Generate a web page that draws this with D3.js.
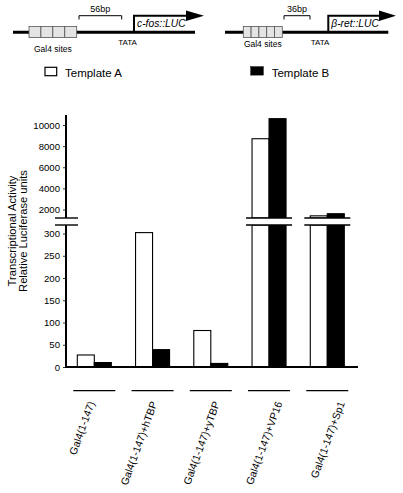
<!DOCTYPE html>
<html>
<head>
<meta charset="utf-8">
<script src="https://cdn.jsdelivr.net/npm/d3@7/dist/d3.min.js"></script>
<style>
  html, body { margin: 0; padding: 0; background: #fff; }
  svg { display: block; font-family: "Liberation Sans", Arial, Helvetica, sans-serif; }
</style>
</head>
<body>
<svg id="chart" width="403" height="493"></svg>
<script>
// ---- data ----
const categories = ["Gal4(1-147)", "Gal4(1-147)+hTBP", "Gal4(1-147)+yTBP", "Gal4(1-147)+VP16", "Gal4(1-147)+Sp1"];
const series = ["Template A", "Template B"];
const templateA = [27, 302, 82, 8700, 1400];
const templateB = [10, 39, 8, 10600, 1600];
const upperTicks = [2000, 4000, 6000, 8000, 10000];
const lowerTicks = [0, 50, 100, 150, 200, 250, 300];

const svg = d3.select("#chart");
const ink = "#000";

// ---- top schematic ----
function construct(g, o) {
  g.append("line").attr("x1", o.x0).attr("x2", o.x1).attr("y1", 32.3).attr("y2", 32.3)
    .attr("stroke", ink).attr("stroke-width", 3);
  const bw = (o.bx1 - o.bx0) / o.nb;
  for (let i = 0; i < o.nb; i++) {
    g.append("rect").attr("x", o.bx0 + i * bw).attr("y", 26.5).attr("width", bw).attr("height", 11)
      .attr("fill", "#e4e4e4").attr("stroke", "#555").attr("stroke-width", 0.8);
  }
  g.append("text").attr("x", (o.bx0 + o.bx1) / 2).attr("y", o.gy).attr("text-anchor", "middle")
    .attr("font-size", 8.5).text("Gal4 sites");
  g.append("path").attr("d", `M${o.bk0},19.5V15.7H${o.bk1}V19.5`).attr("fill", "none")
    .attr("stroke", ink).attr("stroke-width", 1);
  g.append("text").attr("x", (o.bk0 + o.bk1) / 2).attr("y", 12).attr("text-anchor", "middle")
    .attr("font-size", 9).text(o.bp);
  g.append("text").attr("x", o.tx).attr("y", 45).attr("text-anchor", "middle")
    .attr("font-size", 8).text("TATA");
  g.append("path").attr("d", `M${o.ax},32.3V15.7H${o.ah}`).attr("fill", "none")
    .attr("stroke", ink).attr("stroke-width", 2);
  g.append("path").attr("d", `M${o.ah - 1},10.5L${o.at},15.7L${o.ah - 1},21Z`).attr("fill", ink);
  g.append("text").attr("x", o.ax + 3).attr("y", 27.3).attr("font-size", 10.3)
    .attr("font-style", "italic").text(o.label);
}
const schematic = svg.append("g");
construct(schematic, { x0: 13, x1: 195, bx0: 29, bx1: 76.7, nb: 4, gy: 52.3, bk0: 79, bk1: 121.7, bp: "56bp",
  tx: 127.5, ax: 134, ah: 187, at: 204, label: "c-fos::LUC" });
construct(schematic, { x0: 225, x1: 388.3, bx0: 243.3, bx1: 282.3, nb: 5, gy: 47, bk0: 284, bk1: 310, bp: "36bp",
  tx: 320, ax: 328.3, ah: 380, at: 396, label: "β-ret::LUC" });

// ---- legend ----
const legend = svg.append("g");
const legX = [45, 250.7];
series.forEach((s, i) => {
  legend.append("rect").attr("x", legX[i]).attr("y", i === 0 ? 67.3 : 66.7)
    .attr("width", i === 0 ? 11.7 : 12.6).attr("height", 8.4)
    .attr("fill", i === 0 ? "#fff" : ink).attr("stroke", ink).attr("stroke-width", i === 0 ? 1.2 : 0.5);
  legend.append("text").attr("x", legX[i] + (i === 0 ? 20 : 21)).attr("y", 76.5)
    .attr("font-size", 11.5).text(s);
});

// ---- scales ----
const axisX = 66;
const baseY = 367;
const breakTop = 218, breakBot = 225, upperTop = 115;
const x = d3.scaleBand().domain(categories).range([77.3, 344.3]).paddingInner(0.416).paddingOuter(0);
const xs = d3.scaleBand().domain(series).range([0, x.bandwidth()]);
const yU = d3.scaleLinear().domain([2000, 10000]).range([209.5, 125]);
const yL = d3.scaleLinear().domain([0, 300]).range([baseY, 233.5]);
const lowerMax = yL.invert(breakBot);
const xLab = d3.scalePoint().domain(categories).range([95, 345]);

// ---- bars ----
const bars = svg.append("g");
const rows = categories.map((c, i) => ({ c, vals: [templateA[i], templateB[i]] }));
rows.forEach(r => {
  r.vals.forEach((v, j) => {
    const bx = x(r.c) + xs(series[j]);
    const fill = j === 0 ? "#fff" : ink;
    if (v <= lowerMax) {
      bars.append("rect").attr("x", bx).attr("y", yL(v)).attr("width", xs.bandwidth())
        .attr("height", yL(0) - yL(v)).attr("fill", fill).attr("stroke", ink).attr("stroke-width", 1.1);
    } else {
      bars.append("rect").attr("x", bx).attr("y", breakBot).attr("width", xs.bandwidth())
        .attr("height", baseY - breakBot).attr("fill", fill).attr("stroke", ink).attr("stroke-width", 1.1);
      bars.append("rect").attr("x", bx).attr("y", yU(v)).attr("width", xs.bandwidth())
        .attr("height", breakTop - yU(v)).attr("fill", fill).attr("stroke", ink).attr("stroke-width", 1.1);
    }
  });
  if (d3.max(r.vals) > lowerMax) {
    const x0 = x(r.c) - 6, x1 = x(r.c) + x.bandwidth() + 6;
    bars.append("rect").attr("x", x0).attr("y", breakTop).attr("width", x1 - x0)
      .attr("height", breakBot - breakTop).attr("fill", "#fff");
    [breakTop, breakBot].forEach(yy => bars.append("line").attr("x1", x0).attr("x2", x1)
      .attr("y1", yy).attr("y2", yy).attr("stroke", ink).attr("stroke-width", 1.4));
  }
});

// ---- axes ----
const ax = svg.append("g");
ax.append("line").attr("x1", axisX).attr("x2", axisX).attr("y1", upperTop).attr("y2", breakTop)
  .attr("stroke", ink).attr("stroke-width", 2);
ax.append("line").attr("x1", axisX).attr("x2", axisX).attr("y1", breakBot).attr("y2", baseY)
  .attr("stroke", ink).attr("stroke-width", 2);
[breakTop, breakBot].forEach(yy => ax.append("line").attr("x1", 55).attr("x2", 78)
  .attr("y1", yy).attr("y2", yy).attr("stroke", ink).attr("stroke-width", 1.4));
ax.append("line").attr("x1", axisX - 1).attr("x2", 358).attr("y1", baseY).attr("y2", baseY)
  .attr("stroke", ink).attr("stroke-width", 2);

function styleAxis(g) {
  g.select(".domain").remove();
  g.selectAll(".tick line").attr("stroke", ink).attr("stroke-width", 0.8);
  g.selectAll(".tick text").attr("font-size", 9.6).attr("font-family", "Liberation Sans, Arial, sans-serif")
    .attr("fill", ink).attr("x", -6);
}
svg.append("g").attr("transform", `translate(${axisX},0)`)
  .call(d3.axisLeft(yU).tickValues(upperTicks).tickSize(3).tickFormat(d3.format("d"))).call(styleAxis);
svg.append("g").attr("transform", `translate(${axisX},0)`)
  .call(d3.axisLeft(yL).tickValues(lowerTicks).tickSize(3).tickFormat(d3.format("d"))).call(styleAxis);

// y title
const yt = svg.append("g").attr("transform", "translate(0,231) rotate(-90)");
yt.append("text").attr("x", 0).attr("y", 15.5).attr("text-anchor", "middle").attr("font-size", 11.2)
  .text("Transcriptional Activity");
yt.append("text").attr("x", 0).attr("y", 27).attr("text-anchor", "middle").attr("font-size", 11.2)
  .text("Relative Luciferase units");

// ---- category separators and labels ----
const cats = svg.append("g");
categories.forEach(c => {
  const cx = x(c) + x.bandwidth() / 2;
  cats.append("line").attr("x1", cx - 21).attr("x2", cx + 21).attr("y1", 390.7).attr("y2", 390.7)
    .attr("stroke", ink).attr("stroke-width", 1.2);
  cats.append("text").attr("transform", `translate(${xLab(c)},403) rotate(-70)`)
    .attr("text-anchor", "end").attr("font-size", 10.5).text(c);
});
</script>
</body>
</html>
